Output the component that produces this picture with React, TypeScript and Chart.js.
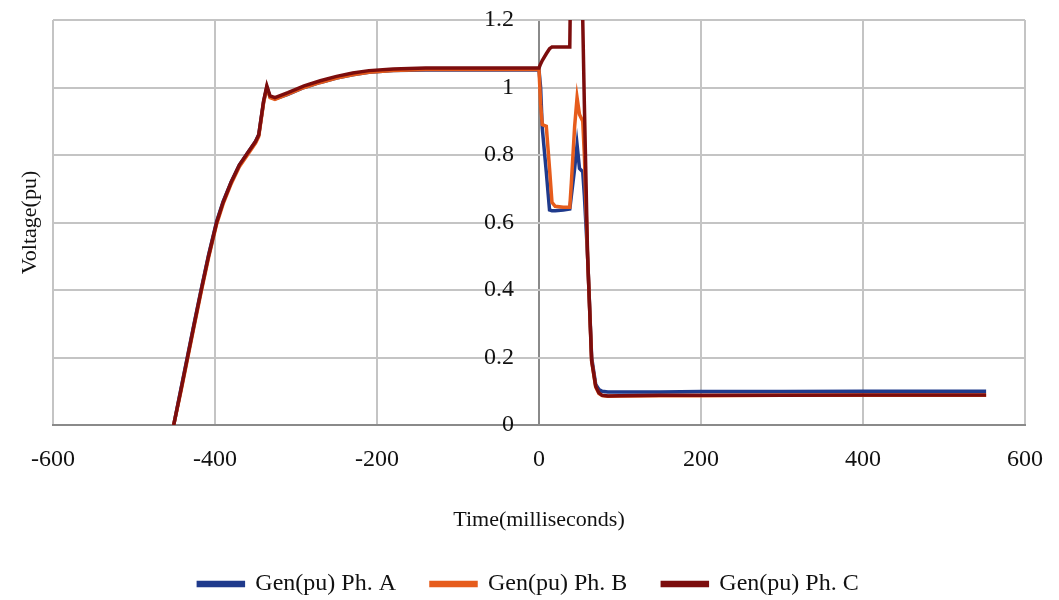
import React, { useEffect, useRef } from 'react';
import { Chart, registerables } from 'chart.js';

Chart.register(...registerables);

// Time in milliseconds (shared by all three phases)
const times = [
  -451, -442, -434, -426, -417, -408, -398, -390, -380, -370, -360, -350, -346, -340, -336, -332, -326,
  -310, -290, -270, -250, -230, -210, -180, -140, -80, 0,
  2, 4, 9, 13, 16, 20, 30, 38, 40, 44, 47, 50, 54, 56, 60, 65, 70, 74, 78, 85, 100, 150, 200, 300, 400,
  500, 552,
];

const phaseA = [
  0, 0.108, 0.203, 0.298, 0.403, 0.503, 0.603, 0.662, 0.72, 0.77, 0.805, 0.84, 0.86, 0.958, 1.0, 0.972,
  0.966, 0.98, 1.0, 1.015, 1.028, 1.038, 1.045, 1.05, 1.052, 1.052, 1.052,
  1.0, 0.88, 0.75, 0.637, 0.635, 0.635, 0.637, 0.64, 0.68, 0.76, 0.83, 0.76, 0.75, 0.68, 0.5, 0.2, 0.12,
  0.105, 0.1, 0.098, 0.098, 0.098, 0.099, 0.099, 0.1, 0.1, 0.1,
];

const phaseB = [
  0, 0.1, 0.195, 0.29, 0.395, 0.495, 0.595, 0.655, 0.715, 0.765, 0.8, 0.835, 0.855, 0.955, 1.0, 0.97,
  0.965, 0.98, 1.0, 1.015, 1.028, 1.038, 1.045, 1.05, 1.053, 1.053, 1.053,
  0.95, 0.89, 0.885, 0.76, 0.66, 0.648, 0.645, 0.645, 0.72, 0.885, 0.97, 0.92, 0.9, 0.8, 0.5, 0.19, 0.113,
  0.093, 0.087, 0.085, 0.086, 0.087, 0.087, 0.088, 0.088, 0.088, 0.088,
];

const phaseC = [
  0, 0.105, 0.2, 0.295, 0.4, 0.5, 0.6, 0.66, 0.72, 0.77, 0.805, 0.84, 0.86, 0.96, 1.005, 0.975, 0.97,
  0.985, 1.005, 1.02, 1.033, 1.043, 1.05, 1.055, 1.058, 1.058, 1.058,
  1.07, 1.08, 1.1, 1.115, 1.12, 1.12, 1.12, 1.12, 1.5, 1.5, 1.5, 1.5, 1.2, 0.95, 0.5, 0.19, 0.115, 0.095,
  0.088, 0.086, 0.087, 0.088, 0.088, 0.088, 0.089, 0.089, 0.089,
];

const seriesNames = ['Gen(pu) Ph. A', 'Gen(pu) Ph. B', 'Gen(pu) Ph. C'];
const seriesColors = ['#1f3a8c', '#e65c1c', '#7c0d0d'];

const xMin = -600;
const xMax = 600;
const xStep = 200;
const yMin = 0;
const yMax = 1.2;
const yStep = 0.2;

const xTitle = 'Time(milliseconds)';
const yTitle = 'Voltage(pu)';

export default function App() {
  const ref = useRef<HTMLCanvasElement>(null);

  useEffect(() => {
    const serif = "'Liberation Serif', 'Times New Roman', serif";
    const tickFont = { family: serif, size: 24 };
    const titleFont = { family: serif, size: 22 };
    const legendFont = { family: serif, size: 24 };
    const gridColor = '#c4c4c4';
    const axisColor = '#8a8a8a';

    const series = [phaseA, phaseB, phaseC];
    const orders = [2, 1, 0];
    const datasets = series.map((vals, i) => ({
      label: seriesNames[i],
      data: times.map((t, k) => ({ x: t, y: vals[k] })),
      borderColor: seriesColors[i],
      backgroundColor: seriesColors[i],
      borderWidth: 3.5,
      pointRadius: 0,
      tension: 0,
      order: orders[i],
    }));

    const chart = new Chart(ref.current!, {
      type: 'line',
      data: { datasets },
      options: {
        animation: false,
        responsive: false,
        devicePixelRatio: 1,
        layout: { autoPadding: false, padding: { top: 20, bottom: -6, left: 0, right: 2 } },
        plugins: {
          legend: {
            position: 'bottom',
            labels: {
              boxWidth: 45,
              boxHeight: 3,
              padding: 35,
              color: '#111',
              font: legendFont,
              sort: (a: any, b: any) => a.datasetIndex - b.datasetIndex,
            },
          },
          tooltip: { enabled: false },
        },
        scales: {
          x: {
            type: 'linear',
            position: 'bottom',
            min: xMin,
            max: xMax,
            ticks: { stepSize: xStep, font: tickFont, color: '#111', padding: 0 },
            grid: {
              color: (c: any) => (c.tick && c.tick.value === 0 ? axisColor : gridColor),
              lineWidth: 2,
              drawTicks: true,
              tickLength: 20,
              tickColor: 'rgba(0,0,0,0)',
            },
            border: { color: axisColor, width: 2 },
            title: { display: true, text: xTitle, font: titleFont, color: '#111', padding: { top: 0, bottom: 4 } },
            afterFit: (s: any) => {
              s.height = 112;
            },
          },
          y: {
            type: 'linear',
            position: { x: -31 },
            min: yMin,
            max: yMax,
            ticks: {
              stepSize: yStep,
              font: tickFont,
              color: '#111',
              padding: 0,
              callback: (v: any) => String(Number(Number(v).toFixed(2))),
            },
            grid: { color: gridColor, lineWidth: 2, drawTicks: false },
            border: { display: false },
            afterFit: (s: any) => {
              s.paddingTop = 0;
              s.paddingBottom = 0;
            },
          },
          yl: {
            type: 'linear',
            position: 'left',
            display: true,
            ticks: { display: false },
            grid: { display: false, drawTicks: false },
            border: { display: false },
            title: { display: true, text: yTitle, font: titleFont, color: '#111', padding: { top: 17, bottom: 0 } },
            afterFit: (s: any) => {
              s.width = 53;
            },
          },
          yr: {
            type: 'linear',
            position: 'right',
            display: true,
            ticks: { display: false },
            grid: { display: false, drawTicks: false },
            border: { display: false },
            afterFit: (s: any) => {
              s.width = 32;
            },
          },
        },
      } as any,
    });
    return () => chart.destroy();
  }, []);

  return (
    <div style={{ position: 'fixed', left: 0, top: 0, width: 1059, height: 600, background: '#fff' }}>
      <canvas ref={ref} width={1059} height={600} style={{ width: 1059, height: 600, display: 'block' }} />
    </div>
  );
}
